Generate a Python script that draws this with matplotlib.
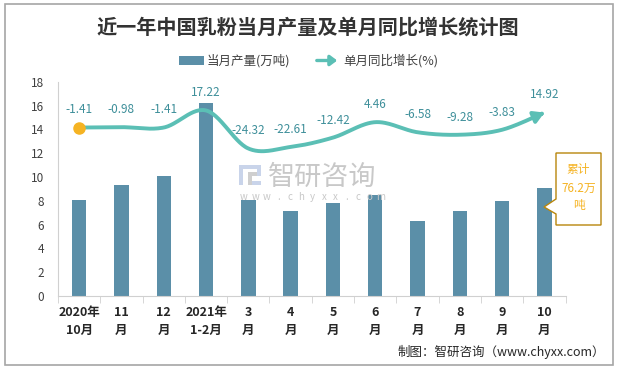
import numpy as np
import matplotlib
matplotlib.use("Agg")
import matplotlib.pyplot as plt
from matplotlib.patches import Rectangle, FancyArrowPatch, Polygon

plt.rcParams['font.family'] = ['Noto Sans CJK SC', 'DejaVu Sans']

categories = ["2020年\n10月", "11\n月", "12\n月", "2021年\n1-2月", "3\n月", "4\n月",
              "5\n月", "6\n月", "7\n月", "8\n月", "9\n月", "10\n月"]
output = [8.07, 9.34, 10.09, 16.26, 8.07, 7.15, 7.82, 8.49, 6.31, 7.15, 7.99, 9.08]
growth = [-1.41, -0.98, -1.41, 17.22, -24.32, -22.61, -12.42, 4.46, -6.58, -9.28, -3.83, 14.92]
growth_labels = ["-1.41", "-0.98", "-1.41", "17.22", "-24.32", "-22.61", "-12.42",
                 "4.46", "-6.58", "-9.28", "-3.83", "14.92"]

BAR = "#5B8FA8"
LINE = "#5BBFB5"
LBL = "#3E8F9A"

W, H = 619, 369
def fx(px): return px / W
def fy(py): return 1 - py / H

fig = plt.figure(figsize=(6.19, 3.69), dpi=100)
fig.patches.append(Rectangle((0.008, 0.01), 0.982, 0.98, transform=fig.transFigure,
                             fill=False, edgecolor="#A6A6A6", lw=1.2))

# watermark (behind the chart)
fig.text(fx(268), fy(177), "智研咨询", fontsize=19.5, color="#C8C8C8", ha='left', va='center', zorder=0)
url = "www.chyxx.com"
for i, ch in enumerate(url):
    fig.text(fx(244 + i * 11.4), fy(197), ch, fontsize=7, color="#C8C8C8", ha='center', va='center', zorder=0)
for (x0, y0, w, h, c) in [(239, 165, 22, 4, "#C9D4EA"), (239, 165, 4, 20, "#C9D4EA"),
                          (248, 172, 13, 4, "#CFCFCF"), (257, 165, 4, 11, "#C9D4EA"),
                          (248, 181, 13, 4, "#C9D4EA"), (248, 172, 4, 13, "#CFCFCF")]:
    fig.patches.append(Rectangle((fx(x0), fy(y0 + h)), w / W, h / H, transform=fig.transFigure,
                                 facecolor=c, edgecolor='none', zorder=0))

ax = fig.add_axes([0.0937, 0.198, 0.82, 0.58])
ax.patch.set_alpha(0)
x = np.arange(len(categories))
ax.bar(x, output, width=0.34, color=BAR, zorder=2)
ax.set_xlim(-0.5, len(categories) - 0.5)
ax.set_ylim(0, 18)
ax.set_yticks(range(0, 19, 2))
ax.tick_params(axis='y', length=0, labelsize=8.5, colors="#404040", pad=10)
ax.set_xticks(x)
ax.set_xticklabels(categories, fontsize=9, fontweight='bold', color="#262626", linespacing=1.5)
ax.tick_params(axis='x', length=0, pad=7)
ax.set_xticks(np.arange(-0.5, len(categories), 1), minor=True)
ax.tick_params(axis='x', which='minor', length=5, color="#D0D0D0")
for s in ["top", "right"]:
    ax.spines[s].set_visible(False)
ax.spines["left"].set_color("#D0D0D0")
ax.spines["bottom"].set_color("#D0D0D0")

# secondary axis for growth
ax2 = ax.twinx()
ax2.set_ylim(-185.3, 48.4)
ax2.axis('off')

# smooth curve (cardinal spline through data points)
def smooth(xs, ys, n=30, t=0.5):
    xs = np.asarray(xs, float); ys = np.asarray(ys, float)
    px = np.concatenate([[xs[0]], xs, [xs[-1]]])
    py = np.concatenate([[ys[0]], ys, [ys[-1]]])
    ox, oy = [], []
    s = np.linspace(0, 1, n, endpoint=False)
    for i in range(1, len(px) - 2):
        m0x = t * (px[i + 1] - px[i - 1]); m0y = t * (py[i + 1] - py[i - 1])
        m1x = t * (px[i + 2] - px[i]); m1y = t * (py[i + 2] - py[i])
        h00 = 2 * s**3 - 3 * s**2 + 1; h10 = s**3 - 2 * s**2 + s
        h01 = -2 * s**3 + 3 * s**2; h11 = s**3 - s**2
        ox.append(h00 * px[i] + h10 * m0x + h01 * px[i + 1] + h11 * m1x)
        oy.append(h00 * py[i] + h10 * m0y + h01 * py[i + 1] + h11 * m1y)
    ox.append([xs[-1]]); oy.append([ys[-1]])
    return np.concatenate(ox), np.concatenate(oy)

sx, sy = smooth(x, growth)
ax2.plot(sx[:-3], sy[:-3], color=LINE, lw=2.8, solid_capstyle='round', zorder=3)
ax2.annotate("", xy=(sx[-1], sy[-1]), xytext=(sx[-5], sy[-5]),
             arrowprops=dict(arrowstyle="-|>,head_length=0.6,head_width=0.35",
                             color=LINE, lw=2.8, shrinkA=0, shrinkB=0), zorder=3)
ax2.plot([x[0]], [growth[0]], 'o', color="#F5B323", ms=8, zorder=4)

for xi, yi, lab in zip(x, growth, growth_labels):
    ax2.annotate(lab, (xi, yi), xytext=(0, 8), textcoords='offset points',
                 ha='center', va='bottom', fontsize=8.5, color=LBL)

# callout
fig.patches.append(Polygon([[fx(556), fy(153)], [fx(601), fy(153)], [fx(601), fy(225)],
                            [fx(556), fy(225)], [fx(556), fy(214)], [fx(544), fy(207)],
                            [fx(556), fy(199)]],
                           closed=True, transform=fig.transFigure, facecolor="white",
                           edgecolor="#B8860B", lw=1.0, zorder=5))
fig.text(fx(578.5), fy(188), "累计\n76.2万\n吨", fontsize=8.5, color="#F5B323", ha='center',
         va='center', linespacing=1.5, zorder=6)

# title
fig.text(fx(308), fy(27), "近一年中国乳粉当月产量及单月同比增长统计图", fontsize=14.5, fontweight='bold',
         color="#333333", ha='center', va='center')

# legend
fig.patches.append(Rectangle((fx(179), fy(65)), 25 / W, 9 / H, transform=fig.transFigure,
                             facecolor=BAR, edgecolor='none'))
fig.text(fx(207), fy(60.5), "当月产量(万吨)", fontsize=9, color="#404040", ha='left', va='center')
fig.patches.append(FancyArrowPatch((fx(314), fy(60.5)), (fx(340), fy(60.5)), transform=fig.transFigure,
                                   arrowstyle="-|>,head_length=4,head_width=3",
                                   color=LINE, lw=2.4))
fig.text(fx(343), fy(60.5), "单月同比增长(%)", fontsize=9, color="#404040", ha='left', va='center')

# source
fig.text(fx(605), fy(352), "制图：智研咨询（www.chyxx.com）", fontsize=9, color="#262626",
         ha='right', va='center')

fig.savefig("out.png", dpi=100)
